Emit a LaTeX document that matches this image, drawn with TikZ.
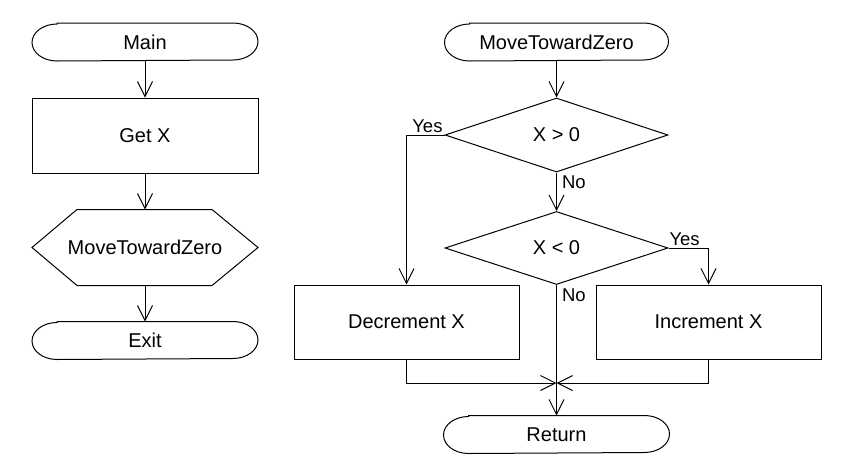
\documentclass[tikz,border=0pt]{standalone}
\usepackage{fontspec}
\setmainfont{Liberation Sans}
\usetikzlibrary{arrows.meta,shapes.geometric}
\begin{document}
\begin{tikzpicture}[x=1pt,y=-1pt,line width=1pt,
  box/.style={draw,rectangle,minimum width=225pt,minimum height=74pt,font=\fontsize{20}{22}\selectfont},
  term/.style={rectangle,minimum width=225pt,minimum height=37pt,inner sep=0pt,font=\fontsize{20}{22}\selectfont},
  dec/.style={draw,diamond,minimum width=223pt,minimum height=74pt,inner sep=0pt,font=\fontsize{20}{22}\selectfont},
  lbl/.style={font=\fontsize{18.5}{20}\selectfont,inner xsep=1.5pt,inner ysep=2pt},
  arr/.style={-{Straight Barb[length=15pt,width=15pt,line width=1pt]}}]
\useasboundingbox (0,0) rectangle (865,472);
% shapes
\node[term] (main) at (145,42) {Main};
\node[box,minimum width=226pt,minimum height=75pt] (getx) at (145,135.5) {Get X};
\node[term,minimum height=75pt] (hex) at (145,247.5) {MoveTowardZero};
\node[term] (exit) at (145,340.5) {Exit};
\node[term,minimum width=223pt] (mtz) at (556.5,42) {MoveTowardZero};
\node[dec] (d1) at (556.5,135) {X > 0};
\node[dec,minimum height=73pt] (d2) at (556.5,248) {X < 0};
\node[box] (decx) at (406.5,322) {Decrement X};
\node[box] (incx) at (708.5,322) {Increment X};
\node[term] (ret) at (556.5,434.5) {Return};
% outlines of terminators and hexagon
\foreach \n in {main,exit,mtz,ret}{
  \draw ([xshift=25pt]\n.north west) -- ([xshift=-25pt]\n.north east)
    arc[start angle=90,end angle=-90,x radius=25pt,y radius=18.5pt]
    -- ([xshift=25pt]\n.south west)
    arc[start angle=270,end angle=90,x radius=25pt,y radius=18.5pt] -- cycle;
}
\draw (hex.west) -- ([xshift=45pt]hex.north west) -- ([xshift=-46pt]hex.north east)
  -- (hex.east) -- ([xshift=-46pt]hex.south east) -- ([xshift=45pt]hex.south west) -- cycle;
% connectors
\draw[arr] (main) -- (getx);
\draw[arr] (getx) -- (hex);
\draw[arr] (hex) -- (exit);
\draw[arr] (mtz) -- (d1);
\draw[arr] (d1.south) -- (d2.north);
\draw[arr] (d1.west) -| (decx.north);
\draw[arr] (d2.east) -| (incx.north);
\coordinate (j) at (556.5,383);
\draw[arr] (decx.south) |- (j);
\draw[arr] (incx.south) |- (j);
\draw (d2.south) -- (j);
\draw[arr] (j) -- (ret.north);
% labels
\node[lbl,anchor=south east] (y1) at (d1.west) {Yes};
\node[lbl,anchor=north west,inner xsep=5pt,inner ysep=3pt] (n1) at (d1.south) {No};
\node[lbl,anchor=south west,inner xsep=0.5pt] (y2) at (d2.east) {Yes};
\node[lbl,anchor=north west,inner xsep=5pt,inner ysep=3pt] (n2) at (d2.south) {No};
\end{tikzpicture}
\end{document}
